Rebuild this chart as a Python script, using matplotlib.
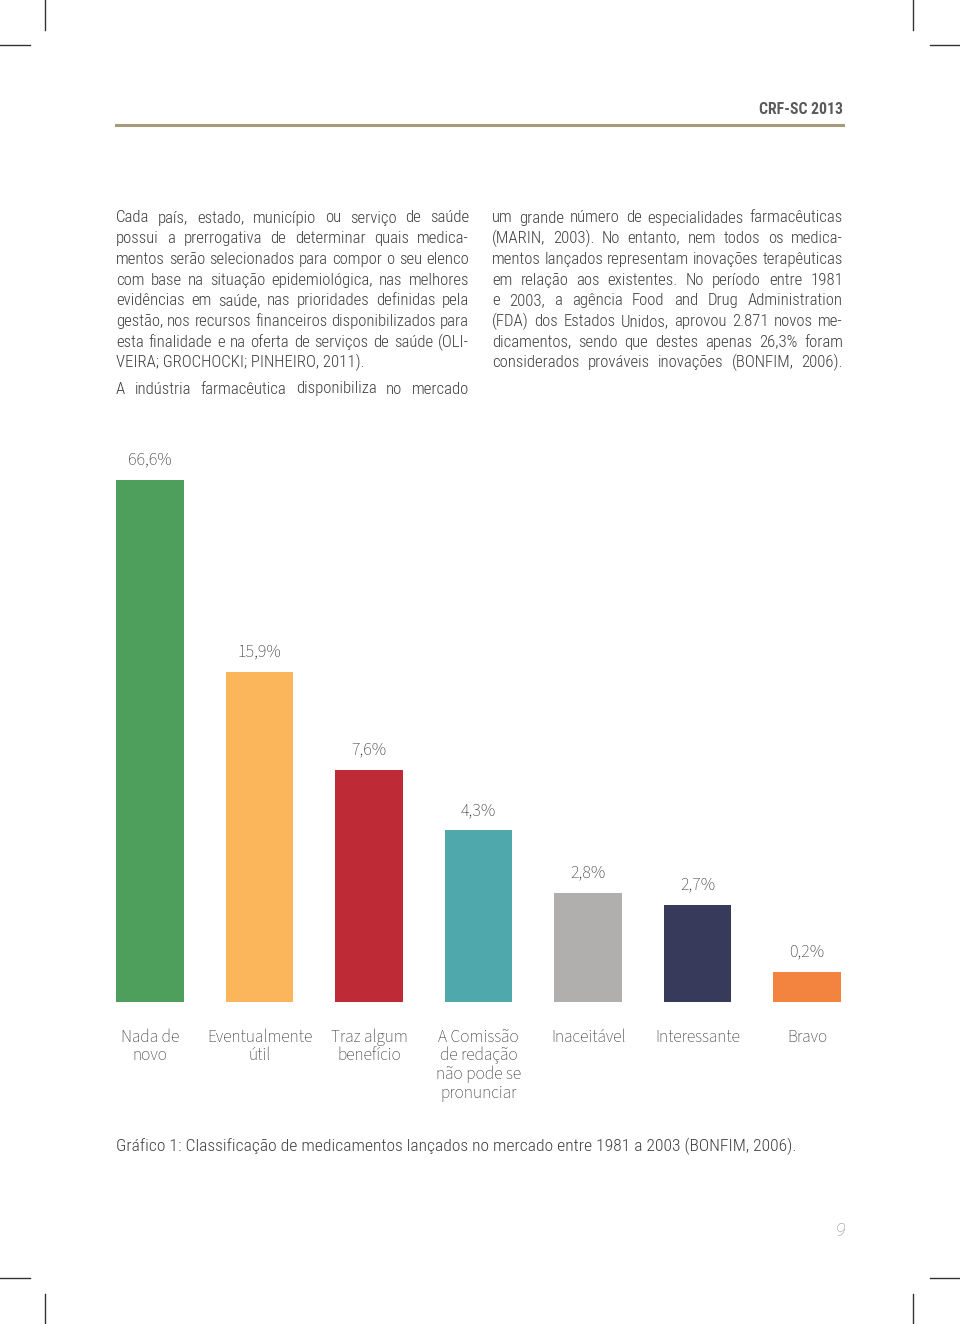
import matplotlib
matplotlib.use("Agg")
import matplotlib.pyplot as plt
from matplotlib.lines import Line2D

# ---------------- data ----------------
categories = ["Nada de\nnovo", "Eventualmente\nútil", "Traz algum\nbenefício",
              "A Comissão\nde redação\nnão pode se\npronunciar",
              "Inaceitável", "Interessante", "Bravo"]
values = [66.6, 15.9, 7.6, 4.3, 2.8, 2.7, 0.2]
value_labels = ["66,6%", "15,9%", "7,6%", "4,3%", "2,8%", "2,7%", "0,2%"]
# bar lengths as drawn in the source figure (not proportional to the values),
# expressed on the scale of the tallest bar (= 66.6)
drawn_heights = [66.6, 42.1, 29.6, 21.9, 13.9, 12.4, 3.8]
colors = ["#4e9f5c", "#fbb65c", "#be2a35", "#4fa8ab", "#b1aeae", "#383a5b", "#f28440"]

col1_lines = [
    "Cada país, estado, município ou serviço de saúde",
    "possui a prerrogativa de determinar quais medica-",
    "mentos serão selecionados para compor o seu elenco",
    "com base na situação epidemiológica, nas melhores",
    "evidências em saúde, nas prioridades definidas pela",
    "gestão, nos recursos financeiros disponibilizados para",
    "esta finalidade e na oferta de serviços de saúde (OLI-",
    "VEIRA; GROCHOCKI; PINHEIRO, 2011).",
]
col1_last = "A indústria farmacêutica disponibiliza no mercado"
col2_lines = [
    "um grande número de especialidades farmacêuticas",
    "(MARIN, 2003). No entanto, nem todos os medica-",
    "mentos lançados representam inovações terapêuticas",
    "em relação aos existentes. No período entre 1981",
    "e 2003, a agência Food and Drug Administration",
    "(FDA) dos Estados Unidos, aprovou 2.871 novos me-",
    "dicamentos, sendo que destes apenas 26,3% foram",
    "considerados prováveis inovações (BONFIM, 2006).",
]
caption = "Gráfico 1: Classificação de medicamentos lançados no mercado entre 1981 a 2003 (BONFIM, 2006)."
header = "CRF-SC 2013"
page_number = "9"

# ---------------- figure ----------------
W, H = 960, 1324
fig = plt.figure(figsize=(W / 100, H / 100), dpi=100)
fig.patch.set_facecolor("white")

def fx(x):
    return x / W

def fy(y):
    return 1 - y / H

cond_family = ["Roboto Condensed", "Liberation Sans Narrow", "DejaVu Sans"]
body_font = dict(family=cond_family, fontweight="light", fontsize=12.1, color="#3f3f3f")
caption_font = dict(body_font, fontsize=12.6)
chart_font = ["Source Sans 3", "Source Sans Pro", "Open Sans", "DejaVu Sans"]

renderer = fig.canvas.get_renderer()

def draw_line(text, x0, x1, y, justify=True):
    words = text.split()
    if not justify or len(words) < 2:
        fig.text(fx(x0), fy(y), text, va="baseline", ha="left", **body_font)
        return
    ts = [fig.text(0, fy(y), w, va="baseline", ha="left", **body_font) for w in words]
    widths = [t.get_window_extent(renderer).width for t in ts]
    gap = (x1 - x0 - sum(widths)) / (len(words) - 1)
    x = x0
    for t, w in zip(ts, widths):
        t.set_x(fx(x))
        x += w + gap

# crop marks
mark = dict(color="#333333", lw=1.0)
for (xa, xb, ya, yb) in [(45, 45, 0, 30), (0, 30, 45, 45), (913, 913, 0, 30), (930, 960, 45, 45),
                         (45, 45, 1294, 1324), (0, 30, 1278, 1278), (913, 913, 1294, 1324), (930, 960, 1278, 1278)]:
    fig.add_artist(Line2D([fx(xa), fx(xb)], [fy(ya), fy(yb)], transform=fig.transFigure, **mark))

# header
fig.text(fx(843), fy(110), header, ha="right", va="center",
         family=cond_family, fontweight="bold", fontsize=11.3, color="#5a5a5a")
fig.add_artist(Line2D([fx(116), fx(843)], [fy(125), fy(125)], transform=fig.transFigure,
                      color="#a8997a", lw=2.2))

# body text
base0, step = 222.5, 20.7
for k, line in enumerate(col1_lines):
    draw_line(line, 116, 469, base0 + k * step, justify=(k != len(col1_lines) - 1))
draw_line(col1_last, 116, 469, 393.5, justify=True)
for k, line in enumerate(col2_lines):
    draw_line(line, 492, 843, base0 + k * step, justify=True)

# ---------------- chart ----------------
ax_left, ax_right, ax_top, ax_bottom = 116, 841, 440, 1002
ax = fig.add_axes([fx(ax_left), fy(ax_bottom), (ax_right - ax_left) / W, (ax_bottom - ax_top) / H])
x = list(range(len(categories)))
bw = 0.62
ax.bar(x, drawn_heights, width=bw, color=colors)
ax.set_xlim(-bw / 2, len(categories) - 1 + bw / 2)
ax.set_ylim(0, 66.6 * (ax_bottom - ax_top) / 522)
for xi, h, lab in zip(x, drawn_heights, value_labels):
    ax.annotate(lab, (xi, h), xytext=(0, 14.5), textcoords="offset points",
                ha="center", va="center", family=chart_font, fontweight="normal",
                fontsize=13, color="#3a3a3a")
ax.set_xticks(x)
ax.set_xticklabels(categories, family=chart_font, fontweight="normal", fontsize=12.5,
                   color="#3a3a3a", linespacing=1.08, va="top", ha="center", multialignment="center")
ax.tick_params(axis="x", length=0, pad=19)
ax.tick_params(axis="y", left=False, labelleft=False)
for s in ax.spines.values():
    s.set_visible(False)
ax.set_facecolor("none")

# caption
fig.text(fx(116), fy(1151.5), caption, ha="left", va="baseline", **caption_font)

# page number
fig.text(fx(841), fy(1231), page_number, ha="center", va="center", style="italic",
         family=["Roboto", "DejaVu Sans"], fontweight="light", fontsize=13, color="#8a8a8a")

fig.savefig("out.png", dpi=100, facecolor="white")
